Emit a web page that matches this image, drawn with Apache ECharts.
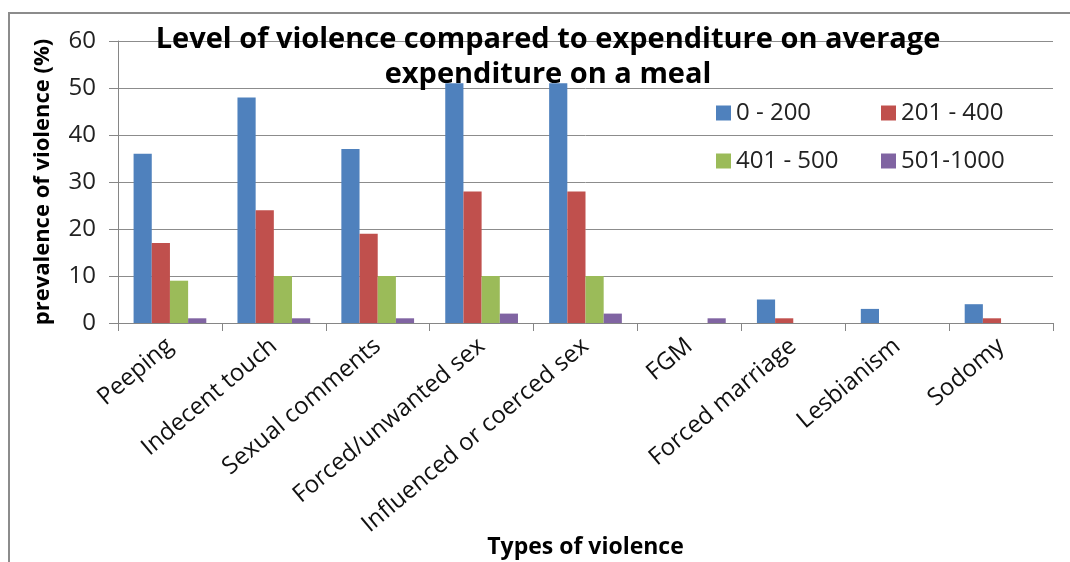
<!DOCTYPE html>
<html><head><meta charset="utf-8">
<script src="https://cdn.jsdelivr.net/npm/echarts@6/dist/echarts.min.js"></script>
<style>html,body{margin:0;padding:0;background:#fff}#c{width:1070px;height:562px;position:relative}
#frame{position:absolute;left:8px;top:12px;width:1080px;height:600px;border:2px solid #8c8c8c;box-sizing:border-box;pointer-events:none}</style>
</head><body><div id="c"></div><div id="frame"></div>
<script>
const categories = ['Peeping','Indecent touch','Sexual comments','Forced/unwanted sex','Influenced or coerced sex','FGM','Forced marriage','Lesbianism','Sodomy'];
const seriesNames = ['0 - 200','201 - 400','401 - 500','501-1000'];
const s0_200 = [36,48,37,51,51,0,5,3,4];
const s201_400 = [17,24,19,28,28,0,1,0,1];
const s401_500 = [9,10,10,10,10,0,0,0,0];
const s501_1000 = [1,1,1,2,2,1,0,0,0];
const yTicks = [0,10,20,30,40,50,60];
const colors = ['#4F81BD','#C0504D','#9BBB59','#8064A2'];
const font = "'Open Sans', 'Noto Sans', sans-serif";
const chart = echarts.init(document.getElementById('c'));
const data = [s0_200, s201_400, s401_500, s501_1000];
chart.setOption({
  animation:false,
  color: colors,
  title:{text:'Level of violence compared to expenditure on average\nexpenditure on a meal',left:543,textAlign:'center',top:17,
    textStyle:{fontFamily:font,fontWeight:'bold',fontSize:29,lineHeight:35,color:'#000'}},
  legend:[
    {data:[seriesNames[0],seriesNames[2]],orient:'vertical',left:711,top:96,itemWidth:15,itemHeight:15,itemGap:24,icon:'rect',
      textStyle:{fontFamily:font,fontSize:24,color:'#222'}},
    {data:[seriesNames[1],seriesNames[3]],orient:'vertical',left:876,top:96,itemWidth:15,itemHeight:15,itemGap:24,icon:'rect',
      textStyle:{fontFamily:font,fontSize:24,color:'#222'}}
  ],
  grid:{left:118,right:17,top:41,bottom:239,containLabel:false,outerBoundsMode:'none'},
  xAxis:{type:'category',data:categories,
    axisLine:{lineStyle:{color:'#868686',width:1}},
    axisTick:{show:true,length:8,lineStyle:{color:'#868686'}},
    axisLabel:{rotate:40,fontFamily:font,fontSize:24,color:'#111',margin:20,interval:0},
    name:'Types of violence',nameLocation:'middle',nameGap:213,nameMoveOverlap:false,
    nameTextStyle:{fontFamily:font,fontWeight:'bold',fontSize:23,color:'#000'}},
  yAxis:{type:'value',min:0,max:60,interval:10,
    axisLine:{show:true,lineStyle:{color:'#868686'}},
    axisTick:{show:true,length:9,lineStyle:{color:'#868686'}},
    splitLine:{lineStyle:{color:'#8c8c8c',width:1}},
    axisLabel:{fontFamily:font,fontSize:24,color:'#222',margin:22,formatter:v=>yTicks.includes(v)?String(v):''},
    name:'prevalence of violence (%)',nameLocation:'middle',nameGap:64,nameRotate:90,nameMoveOverlap:false,
    nameTextStyle:{fontFamily:font,fontWeight:'bold',fontSize:22,color:'#000'}},
  series: seriesNames.map((n,i)=>({name:n,type:'bar',data:data[i],barGap:'0%',barCategoryGap:'30%',
    itemStyle:{color:colors[i]}}))
});
</script></body></html>
